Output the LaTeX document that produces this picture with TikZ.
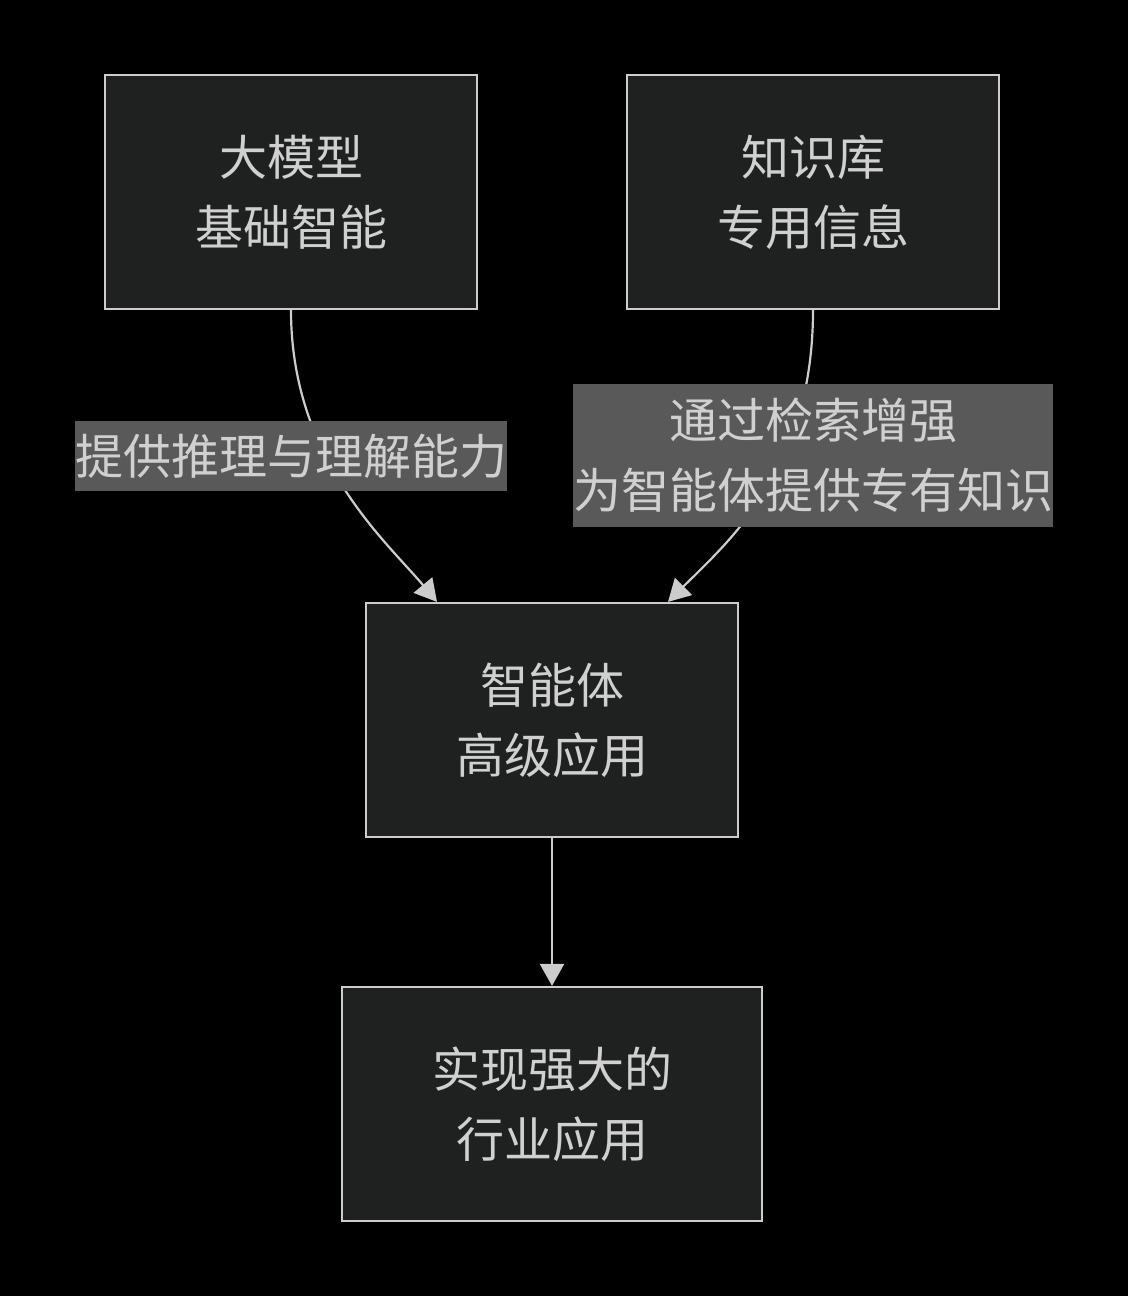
\documentclass[tikz,border=0pt]{standalone}
\usepackage{fontspec}
\setmainfont{Noto Sans CJK SC}
\usetikzlibrary{arrows.meta,calc}
\definecolor{bgc}{HTML}{000000}
\definecolor{boxfill}{HTML}{1F2020}
\definecolor{boxline}{HTML}{CCCCCC}
\definecolor{txt}{HTML}{D0D0D0}
\definecolor{lblfill}{HTML}{595959}
\begin{document}
\begin{tikzpicture}[x=1pt,y=-1pt,
  box/.style={draw=boxline,line width=2.2pt,fill=boxfill,text=txt,inner sep=0pt,
    minimum height=234pt,align=center,font=\fontsize{48}{70}\selectfont},
  lbl/.style={fill=lblfill,text=txt,inner sep=0pt,align=center,font=\fontsize{48}{70}\selectfont},
  conn/.style={draw=boxline,line width=2.2pt,-{Triangle[length=22pt,width=24pt]}}]
\useasboundingbox[fill=bgc] (0,0) rectangle (1128,1296);
\node[box,minimum width=372pt] (A) at (291,192) {大模型\\基础智能};
\node[box,minimum width=372pt] (B) at (813,192) {知识库\\专用信息};
\node[box,minimum width=372pt] (C) at (552,720) {智能体\\高级应用};
\node[box,minimum width=420pt] (D) at (552,1104) {实现强大的\\行业应用};
\draw[conn] (A.south) .. controls +(0,150) and +(-50,-60) .. ($(C.north)+(-115,0)$);
\draw[conn] (B.south) .. controls +(0,160) and +(60,-60) .. ($(C.north)+(116,0)$);
\draw[conn] (C.south) -- (D.north);
\node[lbl,minimum width=432pt,minimum height=70pt] (L1) at (291,456) {提供推理与理解能力};
\node[lbl,minimum width=480pt,minimum height=143pt] (L2) at (813,455.5) {通过检索增强\\为智能体提供专有知识};
\end{tikzpicture}
\end{document}
